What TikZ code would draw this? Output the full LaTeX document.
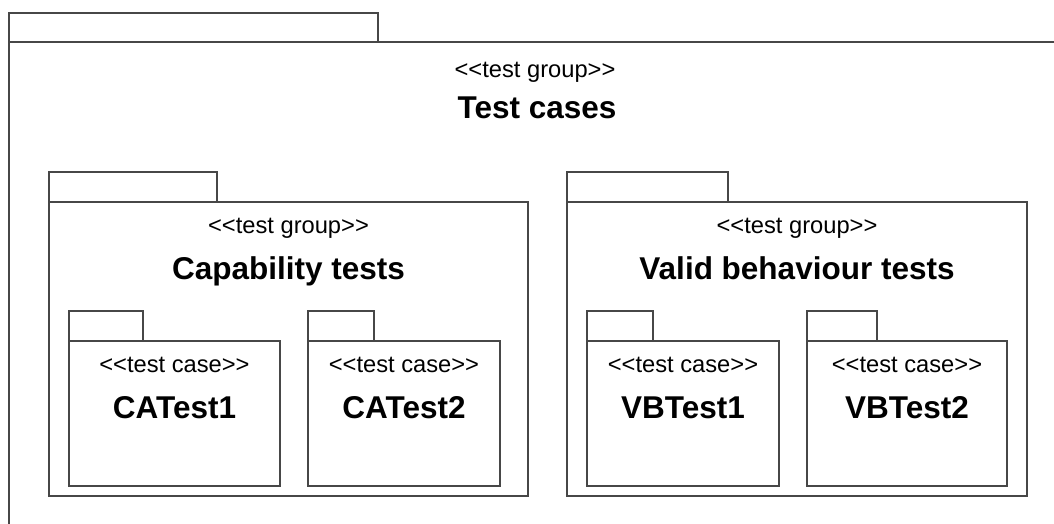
\documentclass[tikz,border=0pt]{standalone}
\usepackage{fontspec}
\setmainfont{Liberation Sans}
\definecolor{edge}{HTML}{474747}
\newcommand{\stg}[1]{{<}{<}#1{>}{>}}
\tikzset{
  pkg/.style={draw=edge, line width=1.6pt, fill=white},
  stereo/.style={anchor=base, inner sep=0pt, font=\fontsize{23.7}{28}\selectfont},
  title/.style={anchor=base, inner sep=0pt, font=\fontsize{31.5}{36}\selectfont\bfseries},
}
\begin{document}
\begin{tikzpicture}[x=1pt,y=-1pt]
\useasboundingbox (0,0) rectangle (1054,524);
% outer package (runs off the picture)
\draw[pkg] (9,13) rectangle (378,42);
\draw[pkg] (9,42) -- (1054,42);
\draw[pkg] (9,42) -- (9,524);
\node[stereo] (outerS) at (535,78) {\stg{test group}};
\node[title] (outerT) at (537,118) {Test cases};
% Capability tests
\draw[pkg] (49,172) rectangle (217,202);
\draw[pkg] (49,202) rectangle (528,496);
\node[stereo] (capS) at (288.5,233) {\stg{test group}};
\node[title] (capT) at (288.5,279) {Capability tests};
\draw[pkg] (69,311) rectangle (143,341);
\draw[pkg] (69,341) rectangle (280,486);
\node[stereo] (ca1S) at (174.5,372) {\stg{test case}};
\node[title] (ca1T) at (174.5,418) {CATest1};
\draw[pkg] (308,311) rectangle (374,341);
\draw[pkg] (308,341) rectangle (500,486);
\node[stereo] (ca2S) at (404,372) {\stg{test case}};
\node[title] (ca2T) at (404,418) {CATest2};
% Valid behaviour tests
\draw[pkg] (567,172) rectangle (728,202);
\draw[pkg] (567,202) rectangle (1027,496);
\node[stereo] (vbS) at (797,233) {\stg{test group}};
\node[title] (vbT) at (797,279) {Valid behaviour tests};
\draw[pkg] (587,311) rectangle (653,341);
\draw[pkg] (587,341) rectangle (779,486);
\node[stereo] (vb1S) at (683,372) {\stg{test case}};
\node[title] (vb1T) at (683,418) {VBTest1};
\draw[pkg] (807,311) rectangle (877,341);
\draw[pkg] (807,341) rectangle (1007,486);
\node[stereo] (vb2S) at (907,372) {\stg{test case}};
\node[title] (vb2T) at (907,418) {VBTest2};
\end{tikzpicture}
\end{document}
